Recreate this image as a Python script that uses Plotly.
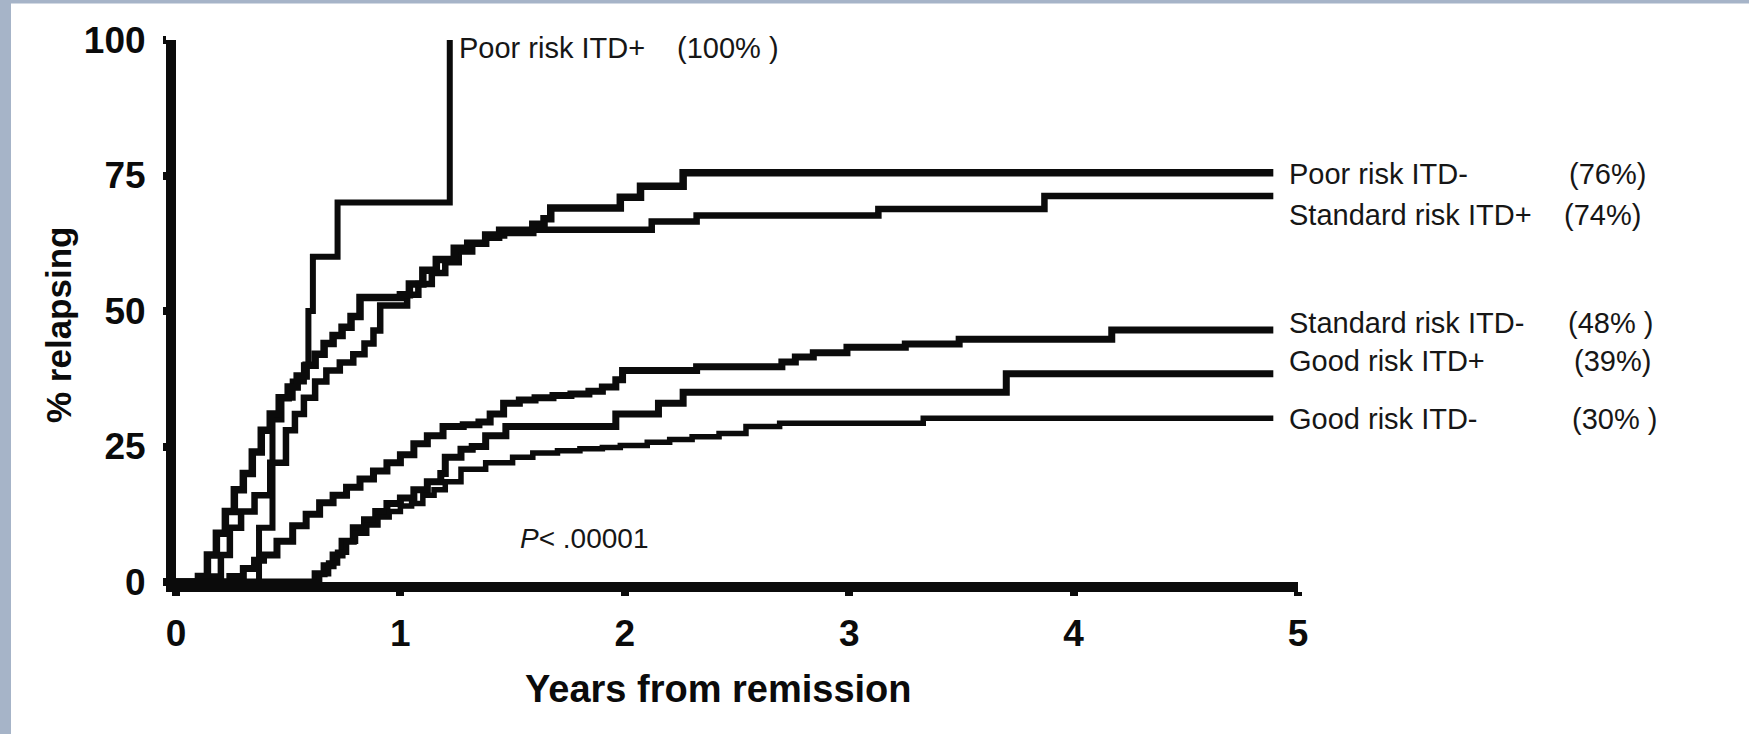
import plotly.graph_objects as go

# ---------------- data (years from remission, % relapsing) ----------------
poor_itd_pos_t = [0, 0.37, 0.43, 0.47, 0.52, 0.57, 0.59, 0.61, 0.72, 1.22]
poor_itd_pos_y = [0, 10, 30, 34, 37, 40, 50, 60, 70, 100]

poor_itd_neg_t = [0, 0.10, 0.14, 0.18, 0.22, 0.26, 0.30, 0.34, 0.38, 0.42, 0.46, 0.50,
                  0.54, 0.58, 0.62, 0.66, 0.70, 0.74, 0.78, 0.82, 1.00, 1.04, 1.10, 1.16,
                  1.24, 1.30, 1.38, 1.46, 1.59, 1.64, 1.67, 1.98, 2.07, 2.26, 4.89]
poor_itd_neg_y = [0, 1, 5, 9, 13, 17, 20, 24, 28, 31, 34, 36,
                  38, 40, 42, 44, 45.5, 47, 49, 52.5, 53, 55, 57.5, 59.5,
                  61.6, 62.5, 64, 64.5, 66, 67, 69, 71, 73, 75.5, 75.5]

std_itd_pos_t = [0, 0.16, 0.20, 0.24, 0.29, 0.35, 0.42, 0.49, 0.53, 0.57, 0.62, 0.67,
                 0.73, 0.79, 0.84, 0.88, 0.91, 1.03, 1.08, 1.14, 1.20, 1.26, 1.32, 1.38,
                 1.44, 2.12, 2.32, 3.13, 3.87, 4.89]
std_itd_pos_y = [0, 1, 5, 10, 13, 16, 22, 28, 31, 34, 37, 39,
                 40.5, 42, 44, 46.4, 51, 53, 55, 57, 59, 61, 62.5, 63.5,
                 65, 66.5, 67.6, 68.8, 71.2, 71.2]

std_itd_neg_t = [0, 0.24, 0.30, 0.35, 0.39, 0.45, 0.52, 0.58, 0.64, 0.70, 0.76, 0.82,
                 0.88, 0.94, 1.00, 1.06, 1.12, 1.19, 1.28, 1.35, 1.40, 1.46, 1.53, 1.60,
                 1.68, 1.76, 1.84, 1.90, 1.96, 1.99, 2.32, 2.70, 2.76, 2.84, 2.99, 3.25,
                 3.49, 4.17, 4.89]
std_itd_neg_y = [0, 1, 2.5, 4, 5, 7.5, 10.4, 12.5, 14.6, 16, 17.5, 19,
                 20.5, 22, 23.5, 25.5, 27, 28.7, 29, 29.5, 31, 33, 33.6, 34,
                 34.4, 34.7, 35.2, 36, 37.3, 39, 39.7, 40.6, 41.5, 42.3, 43.3, 43.9,
                 44.8, 46.5, 46.5]

good_itd_pos_t = [0, 0.62, 0.66, 0.70, 0.74, 0.79, 0.84, 0.89, 0.94, 1.00, 1.06, 1.12,
                  1.18, 1.20, 1.27, 1.32, 1.38, 1.47, 1.96, 2.15, 2.26, 3.70, 4.89]
good_itd_pos_y = [0, 1.5, 3, 5, 7.5, 10, 11.5, 13, 14.5, 15.5, 17, 18.5,
                  20, 23, 24.5, 25, 27, 28.7, 31, 33, 35, 38.4, 38.4]

good_itd_neg_t = [0, 0.64, 0.68, 0.72, 0.76, 0.80, 0.85, 0.90, 0.95, 1.00, 1.05, 1.10,
                  1.15, 1.20, 1.27, 1.38, 1.50, 1.59, 1.70, 1.80, 1.90, 1.98, 2.10, 2.20,
                  2.30, 2.42, 2.54, 2.69, 3.33, 4.89]
good_itd_neg_y = [0, 1.5, 3.5, 5.5, 7.5, 9, 10.5, 12, 13, 14, 14.5, 16,
                  17, 18.5, 20.8, 22, 23, 23.8, 24.2, 24.6, 24.8, 25.2, 25.8, 26.3,
                  26.8, 27.4, 28.7, 29.3, 30.2, 30.2]

group_names = ["Poor risk ITD-", "Standard risk ITD+", "Standard risk ITD-",
               "Good risk ITD+", "Good risk ITD-"]
group_pcts = ["(76%)", "(74%)", "(48% )", "(39%)", "(30% )"]
top_name = "Poor risk ITD+"
top_pct = "(100% )"

x_ticks = [0, 1, 2, 3, 4, 5]
y_ticks = [0, 25, 50, 75, 100]
p_text = "<i>P</i>< .00001"
x_title = "Years from remission"
y_title = "% relapsing"

# ---------------- figure ----------------
FONT = "Liberation Sans, Arial, Helvetica, sans-serif"
INK = "#0b0b0b"
TXT = "#161616"

curves = [
    (poor_itd_pos_t, poor_itd_pos_y, 6),
    (std_itd_pos_t, std_itd_pos_y, 6.5),
    (poor_itd_neg_t, poor_itd_neg_y, 7.5),
    (std_itd_neg_t, std_itd_neg_y, 7),
    (good_itd_pos_t, good_itd_pos_y, 7),
    (good_itd_neg_t, good_itd_neg_y, 5.5),
]

fig = go.Figure()
for t, y, w in curves:
    fig.add_trace(go.Scatter(x=t, y=y, mode="lines",
                             line=dict(color=INK, width=w, shape="hv"),
                             showlegend=False, hoverinfo="skip"))

L, R, T, B = 176, 451, 40, 152
W, H = 1749, 734
pw, ph = W - L - R, H - T - B


def px2paper_x(px):
    return (px - L) / pw


def px2paper_y(py):
    return (H - B - py) / ph


annotations = []
label_py = [174, 215, 323, 361, 419]
pct_px = [1607, 1602, 1610, 1612, 1614]
for name, pct, py, ppx in zip(group_names, group_pcts, label_py, pct_px):
    annotations.append(dict(x=px2paper_x(1287), y=px2paper_y(py), xref="paper", yref="paper",
                            text=name, showarrow=False, xanchor="left", yanchor="middle",
                            font=dict(family=FONT, size=29, color=TXT)))
    annotations.append(dict(x=px2paper_x(ppx), y=px2paper_y(py), xref="paper", yref="paper",
                            text=pct, showarrow=False, xanchor="center", yanchor="middle",
                            font=dict(family=FONT, size=29, color=TXT)))
annotations.append(dict(x=px2paper_x(457), y=px2paper_y(48), xref="paper", yref="paper",
                        text=top_name, showarrow=False, xanchor="left", yanchor="middle",
                        font=dict(family=FONT, size=29, color=TXT)))
annotations.append(dict(x=px2paper_x(728), y=px2paper_y(48), xref="paper", yref="paper",
                        text=top_pct, showarrow=False, xanchor="center", yanchor="middle",
                        font=dict(family=FONT, size=29, color=TXT)))
annotations.append(dict(x=px2paper_x(518), y=px2paper_y(538), xref="paper", yref="paper",
                        text=p_text, showarrow=False, xanchor="left", yanchor="middle",
                        font=dict(family=FONT, size=28, color=TXT)))
annotations.append(dict(x=px2paper_x(718), y=px2paper_y(689), xref="paper", yref="paper",
                        text=x_title, showarrow=False, xanchor="center", yanchor="middle",
                        font=dict(family=FONT, size=38, color=INK, weight="bold")))
annotations.append(dict(x=px2paper_x(58), y=px2paper_y(325), xref="paper", yref="paper",
                        text=y_title, showarrow=False, xanchor="center", yanchor="middle",
                        textangle=-90,
                        font=dict(family=FONT, size=35, color=INK, weight="bold")))

border = "#a6b4c8"
shapes = [
    dict(type="rect", xref="paper", yref="paper",
         x0=px2paper_x(0), x1=px2paper_x(11), y0=px2paper_y(H), y1=px2paper_y(0),
         fillcolor=border, line=dict(width=0), layer="below"),
    dict(type="rect", xref="paper", yref="paper",
         x0=px2paper_x(0), x1=px2paper_x(W), y0=px2paper_y(3.5), y1=px2paper_y(0),
         fillcolor=border, line=dict(width=0), layer="below"),
]

fig.update_layout(
    width=W, height=H,
    margin=dict(l=L, r=R, t=T, b=B, pad=0),
    paper_bgcolor="white", plot_bgcolor="white",
    annotations=annotations, shapes=shapes,
    xaxis=dict(range=[0, 5], tickvals=x_ticks, ticktext=[str(v) for v in x_ticks],
               showline=True, linewidth=10, linecolor=INK, ticks="outside",
               ticklen=4, tickwidth=8, tickcolor=INK, showgrid=False, zeroline=False,
               ticklabelstandoff=6,
               tickfont=dict(family=FONT, size=37, color=INK, weight="bold")),
    yaxis=dict(range=[0, 100], tickvals=y_ticks, ticktext=[str(v) for v in y_ticks],
               showline=True, linewidth=10, linecolor=INK, ticks="outside",
               ticklen=3, tickwidth=8, tickcolor=INK, showgrid=False, zeroline=False,
               ticklabelstandoff=10,
               tickfont=dict(family=FONT, size=37, color=INK, weight="bold")),
)

fig.write_html("out.html",
               config={"displayModeBar": False},
               post_script="document.body.style.margin='0';"
                           "document.body.style.overflow='hidden';")
